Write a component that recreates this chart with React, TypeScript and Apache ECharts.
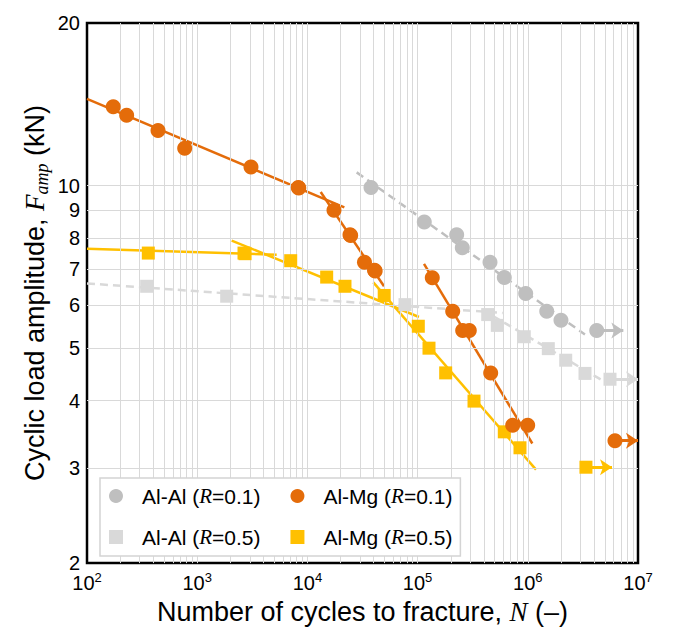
import React, { useEffect, useRef } from "react";
import * as echarts from "echarts";

const FONT = "'Liberation Sans', Arial, sans-serif";
const SERIF = "'Liberation Serif', 'Times New Roman', serif";

// Axis ticks
const xTickExponents = [2, 3, 4, 5, 6, 7];
const xGridMantissas = [1, 2, 3, 4, 5, 6, 7, 8, 9];
const yTickLabels = [2, 3, 4, 5, 6, 7, 8, 9, 10, 20];

// Legend names
const legendNames = ["Al-Al (R=0.1)", "Al-Mg (R=0.1)", "Al-Al (R=0.5)", "Al-Mg (R=0.5)"];

// Al-Al, R = 0.1 (last point is a run-out)
const alAlR01N = [37770, 115000, 226300, 254400, 453900, 612000, 957000, 1485000, 2000000, 4220000];
const alAlR01F = [9.92, 8.56, 8.11, 7.67, 7.21, 6.76, 6.31, 5.85, 5.63, 5.39];
const alAlR01RunoutTo = 7.36e6;

// Al-Mg, R = 0.1
const alMgR01N = [173, 229, 441, 770, 3077, 8268, 8350, 17430, 24350, 24700, 32960, 40640, 41200, 135900, 208200, 256500, 294500, 460500, 729500, 998000, 6180000];
const alMgR01F = [14.0, 13.5, 12.65, 11.73, 10.82, 9.92, 9.9, 9.0, 8.11, 8.08, 7.21, 6.97, 6.95, 6.75, 5.85, 5.39, 5.39, 4.5, 3.6, 3.6, 3.37];
const alMgR01RunoutTo = 1e7;

// Al-Al, R = 0.5
const alAlR05N = [348, 1852, 76860, 432700, 528900, 929000, 1535000, 2208000, 3304000, 5570000];
const alAlR05F = [6.51, 6.24, 6.02, 5.77, 5.51, 5.25, 4.99, 4.75, 4.49, 4.38];
const alAlR05RunoutTo = 1e7;

// Al-Mg, R = 0.5
const alMgR05N = [360, 2659, 2720, 7056, 14960, 21930, 49770, 101500, 126900, 179800, 325000, 612000, 849300, 3370000];
const alMgR05F = [7.5, 7.5, 7.48, 7.26, 6.77, 6.51, 6.26, 5.49, 5.0, 4.5, 3.99, 3.5, 3.27, 3.01];
const alMgR05RunoutTo = 5.81e6;

// Fitted trend lines [N start, N end], [F start, F end]
const orangeFitA = { n: [100, 21630], f: [14.47, 9.11] };
const orangeFitB = { n: [13200, 49550], f: [9.73, 6.51] };
const orangeFitC = { n: [114300, 1099000], f: [7.16, 3.33] };
const yellowFitA = { n: [100, 5264], f: [7.64, 7.45] };
const yellowFitB = { n: [2056, 102900], f: [7.91, 5.71] };
const yellowFitC = { n: [39630, 1187000], f: [6.62, 2.98] };
const grayFit = { n: [28000, 3300000], f: [10.58, 5.3] };
const lightGrayFitA = { n: [100, 591700], f: [6.59, 5.81] };
const lightGrayFitB = { n: [381900, 4810000], f: [5.9, 4.35] };

const C_GRAY = "#BFBFBF";
const C_LGRAY = "#D9D9D9";
const C_ORANGE = "#E46C0A";
const C_YELLOW = "#FFC000";

function pairs(n: number[], f: number[]) {
  return n.map((v, i) => [v, f[i]]);
}

function fitSeries(fit: { n: number[]; f: number[] }, color: string, dashed: boolean, z: number) {
  return {
    type: "line",
    name: "fit",
    data: pairs(fit.n, fit.f),
    symbol: "none",
    showSymbol: false,
    silent: true,
    z,
    lineStyle: { color, width: 2.5, type: dashed ? [8, 5] : "solid" },
  };
}

function scatterSeries(name: string, n: number[], f: number[], color: string, symbol: string, size: number, runoutTo: number, z: number) {
  const last = n.length - 1;
  return {
    type: "scatter",
    name,
    data: pairs(n, f),
    symbol,
    symbolSize: size,
    z,
    itemStyle: { color, opacity: 1 },
    markLine: {
      silent: true,
      symbol: ["none", "arrow"],
      symbolSize: 12,
      label: { show: false },
      lineStyle: { color, width: 3, type: "solid" },
      data: [[{ coord: [n[last], f[last]] }, { coord: [runoutTo, f[last]] }]],
    },
  };
}

export default function App() {
  const ref = useRef<HTMLDivElement>(null);

  useEffect(() => {
    if (!ref.current) return;
    const chart = echarts.init(ref.current, null, { renderer: "svg" });

    const gridLines: any[] = [];
    xTickExponents.forEach((e) => {
      xGridMantissas.forEach((m) => {
        const v = m * Math.pow(10, e);
        if (v > 100 && v < 1e7) gridLines.push({ xAxis: v });
      });
    });
    yTickLabels.forEach((v, i) => {
      const edge = i === 0 || i === yTickLabels.length - 1;
      gridLines.push({
        yAxis: v,
        lineStyle: edge ? { color: "rgba(0,0,0,0)" } : undefined,
        label: {
          show: true,
          position: "start",
          distance: 7,
          formatter: String(v),
          fontSize: 20,
          fontFamily: FONT,
          color: "#000",
        },
      });
    });

    const legendColors = [C_GRAY, C_ORANGE, C_LGRAY, C_YELLOW];
    const legendIcons = ["circle", "circle", "rect", "rect"];

    const option: any = {
      animation: false,
      backgroundColor: "#fff",
      textStyle: { fontFamily: FONT },
      grid: {
        left: 87,
        top: 23,
        right: 36,
        bottom: 66,
        show: true,
        borderColor: "#000",
        borderWidth: 2.5,
        backgroundColor: "transparent",
      },
      legend: {
        z: 20,
        left: 100,
        top: 478,
        orient: "horizontal",
        width: 366,
        itemWidth: 14,
        itemHeight: 14,
        itemGap: 17,
        padding: [6, 8, 7, 9],
        borderColor: "#D4D4D4",
        borderWidth: 1.5,
        backgroundColor: "#fff",
        selectedMode: false,
        data: legendNames.map((name, i) => ({
          name,
          icon: legendIcons[i],
          itemStyle: { color: legendColors[i], borderWidth: 0, opacity: 1 },
        })),
        formatter: (name: string) => {
          const m = name.match(/^(.*) \(R=(.*)\)$/);
          if (!m) return name;
          return `{g|}{n|${m[1]} (}{i|R}{n|=${m[2]})}` + (m[1] === "Al-Al" ? "{t|}" : "");
        },
        textStyle: {
          fontSize: 21,
          fontFamily: FONT,
          color: "#000",
          lineHeight: 24,
          rich: {
            g: { width: 14 },
            t: { width: 13 },
            n: { fontSize: 21, fontFamily: FONT, color: "#000", lineHeight: 24 },
            i: { fontSize: 21, fontFamily: SERIF, fontStyle: "italic", color: "#000", lineHeight: 24 },
          },
        },
      },
      xAxis: {
        type: "log",
        logBase: 10,
        min: 100,
        max: 1e7,
        axisLine: { show: false },
        axisTick: { show: false },
        splitLine: { show: false },
        axisLabel: {
          margin: 8,
          formatter: (v: number) => `{b|10}{s|${Math.round(Math.log10(v))}}`,
          rich: {
            b: { fontSize: 20, fontFamily: FONT, color: "#000", lineHeight: 24 },
            s: { fontSize: 13, fontFamily: FONT, color: "#000", lineHeight: 14, verticalAlign: "top" },
          },
        },
        name: "{t|Number of cycles to fracture, }{i|N}{t| (–)}",
        nameLocation: "middle",
        nameGap: 26,
        nameTextStyle: {
          rich: {
            t: { fontSize: 27, fontFamily: FONT, color: "#000", lineHeight: 32 },
            i: { fontSize: 27, fontFamily: SERIF, fontStyle: "italic", color: "#000", lineHeight: 32 },
          },
        },
      },
      yAxis: {
        type: "log",
        logBase: 10,
        min: 2,
        max: 20,
        axisLine: { show: false },
        axisTick: { show: false },
        splitLine: { show: false },
        axisLabel: { show: false },
        name: "{t|Cyclic load amplitude, }{i|F}{s|amp}{t| (kN)}",
        nameLocation: "middle",
        nameRotate: 90,
        nameGap: 36,
        nameTextStyle: {
          rich: {
            t: { fontSize: 27, fontFamily: FONT, color: "#000", lineHeight: 32 },
            i: { fontSize: 27, fontFamily: SERIF, fontStyle: "italic", color: "#000", lineHeight: 32 },
            s: { fontSize: 18, fontFamily: SERIF, fontStyle: "italic", color: "#000", lineHeight: 16, verticalAlign: "bottom" },
          },
        },
      },
      series: [
        {
          type: "line",
          name: "grid",
          data: [],
          silent: true,
          z: 1,
          markLine: {
            silent: true,
            symbol: ["none", "none"],
            label: { show: false },
            lineStyle: { color: "#D9D9D9", width: 1, type: "solid" },
            data: gridLines,
          },
        },
        fitSeries(lightGrayFitA, C_LGRAY, true, 2),
        fitSeries(lightGrayFitB, C_LGRAY, true, 2),
        fitSeries(grayFit, C_GRAY, true, 2),
        fitSeries(yellowFitA, C_YELLOW, false, 3),
        fitSeries(yellowFitB, C_YELLOW, false, 3),
        fitSeries(yellowFitC, C_YELLOW, false, 3),
        fitSeries(orangeFitA, C_ORANGE, false, 4),
        fitSeries(orangeFitB, C_ORANGE, false, 4),
        fitSeries(orangeFitC, C_ORANGE, false, 4),
        scatterSeries(legendNames[2], alAlR05N, alAlR05F, C_LGRAY, "rect", 13, alAlR05RunoutTo, 5),
        scatterSeries(legendNames[0], alAlR01N, alAlR01F, C_GRAY, "circle", 15, alAlR01RunoutTo, 5),
        scatterSeries(legendNames[3], alMgR05N, alMgR05F, C_YELLOW, "rect", 13, alMgR05RunoutTo, 6),
        scatterSeries(legendNames[1], alMgR01N, alMgR01F, C_ORANGE, "circle", 15, alMgR01RunoutTo, 7),
      ],
    };

    chart.setOption(option);
    return () => chart.dispose();
  }, []);

  return <div ref={ref} style={{ position: "fixed", left: 0, top: 0, width: 674, height: 630 }} />;
}
